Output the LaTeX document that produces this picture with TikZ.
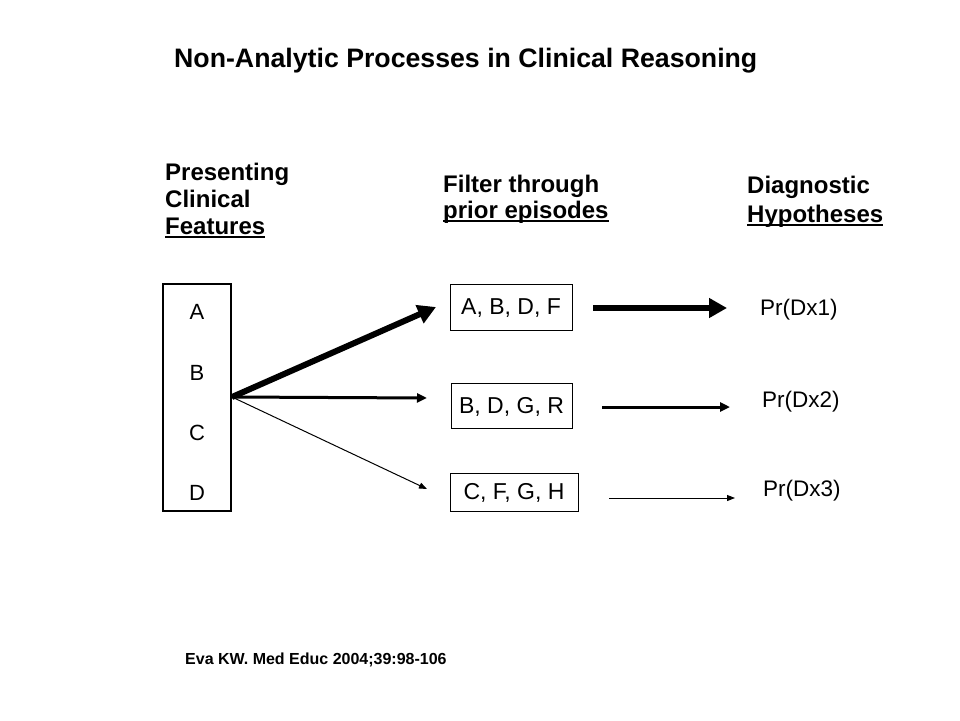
\documentclass[tikz,border=0pt]{standalone}
\usepackage{fontspec}
\setmainfont{Liberation Sans}
\usetikzlibrary{arrows.meta}
\newcommand\myul[1]{\setbox0=\hbox{#1}\rlap{\rule[-4pt]{\wd0}{1.8pt}}\box0}
\begin{document}
\begin{tikzpicture}[x=1pt,y=-1pt,
  hdr/.style={anchor=base west,inner sep=0,font=\fontsize{24}{28}\selectfont\bfseries},
  ttl/.style={anchor=base west,inner sep=0,font=\fontsize{26.7}{30}\selectfont\bfseries},
  lbl/.style={anchor=base west,inner sep=0,font=\fontsize{22.5}{26}\selectfont},
  let/.style={anchor=base,inner sep=0,font=\fontsize{22}{25}\selectfont},
  fbox/.style={draw,line width=1pt,inner sep=0,text height=16pt,text depth=1pt,font=\fontsize{23}{26}\selectfont},
  thick arrow/.style={line width=6pt,-{Triangle[length=18pt,width=19pt]}},
  mid arrow/.style={line width=3pt,-{Triangle[length=10pt,width=9pt]}},
  thin arrow/.style={line width=1pt,-{Triangle[length=8pt,width=6pt]}}]
\useasboundingbox[fill=white] (0,0) rectangle (960,720);
% title
\node[ttl] (title) at (174,67) {Non-Analytic Processes in Clinical Reasoning};
% headers
\node[hdr] (h1a) at (165,180) {Presenting};
\node[hdr] (h1b) at (165,207) {Clinical};
\node[hdr] (h1c) at (165,234) {\myul{Features}};
\node[hdr] (h2a) at (443,192) {Filter through};
\node[hdr] (h2b) at (443,218) {\myul{prior episodes}};
\node[hdr] (h3a) at (747,193) {Diagnostic};
\node[hdr] (h3b) at (747,222) {\myul{Hypotheses}};
% left box
\node[draw,line width=2pt,minimum width=68pt,minimum height=227pt,inner sep=0] (lbox) at (197,397.5) {};
\node[let] (la) at (197,319) {A};
\node[let] (lb) at (197,380) {B};
\node[let] (lc) at (197,440) {C};
\node[let] (ld) at (197,500) {D};
% middle boxes
\node[fbox,minimum width=122pt,minimum height=46pt] (abdf) at (511,307) {A, B, D, F};
\node[fbox,minimum width=121pt,minimum height=45pt] (bdgr) at (511.5,405.5) {B, D, G, R};
\node[fbox,minimum width=128pt,minimum height=38pt] (cfgh) at (514,492) {C, F, G, H};
% labels
\node[lbl] (p1) at (760,315) {Pr(Dx1)};
\node[lbl] (p2) at (762,407) {Pr(Dx2)};
\node[lbl] (p3) at (763,496) {Pr(Dx3)};
% footer
\node[anchor=base west,inner sep=0,font=\fontsize{16}{19}\selectfont\bfseries] (ref) at (185,664) {Eva KW. Med Educ 2004;39:98-106};
% arrow coordinates
\coordinate (src) at (lbox.east |- 0,397);
\coordinate (t1) at (436,307);
\coordinate (t2) at (427,398);
\coordinate (t3) at (427,489);
\coordinate (s4) at (593,308);
\coordinate (t4) at (727,308);
\coordinate (s5) at (602,407);
\coordinate (t5) at (730,407);
\coordinate (s6) at (609,498);
\coordinate (t6) at (735,498);
\draw[thick arrow] (src) -- (t1);
\draw[mid arrow] (src) -- (t2);
\draw[thin arrow] (src) -- (t3);
\draw[thick arrow] (s4) -- (t4);
\draw[mid arrow] (s5) -- (t5);
\draw[thin arrow] (s6) -- (t6);
\end{tikzpicture}
\end{document}
